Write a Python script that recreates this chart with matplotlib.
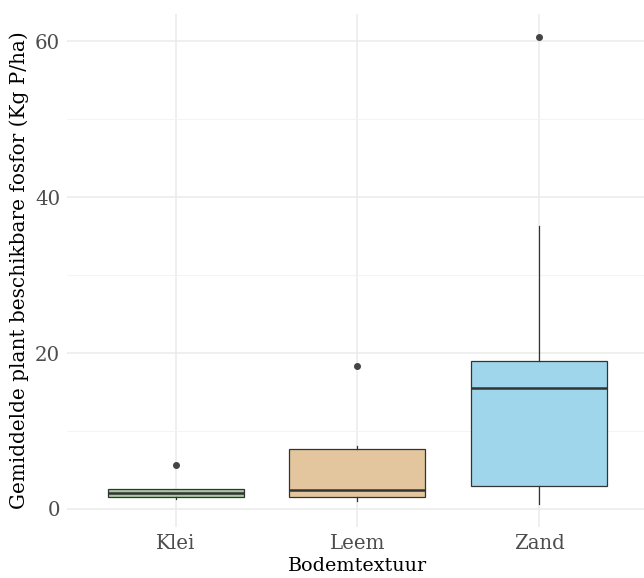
import matplotlib
matplotlib.use("Agg")
import matplotlib.pyplot as plt

# waarden
categories = ["Klei", "Leem", "Zand"]
q1 = [1.5, 1.5, 3.0]
median = [2.0, 2.4, 15.5]
q3 = [2.5, 7.65, 19.0]
whisker_low = [1.3, 1.05, 0.65]
whisker_high = [2.5, 8.05, 36.3]
outliers = [[5.6], [18.3], [60.5]]
colors = ["#a6cba1", "#e3c69e", "#a0d6ec"]

plt.rcParams["font.family"] = ["DejaVu Serif"]

fig, ax = plt.subplots(figsize=(6.44, 5.78), dpi=100)
fig.subplots_adjust(left=0.104, right=1.006, top=0.976, bottom=0.0877)

stats = []
for i, c in enumerate(categories):
    stats.append({"label": c, "q1": q1[i], "med": median[i], "q3": q3[i],
                  "whislo": whisker_low[i], "whishi": whisker_high[i],
                  "fliers": outliers[i]})

bp = ax.bxp(stats, positions=[1, 2, 3], widths=0.75, patch_artist=True,
            showcaps=False,
            boxprops=dict(edgecolor="#333333", linewidth=0.9),
            whiskerprops=dict(color="#333333", linewidth=0.9),
            medianprops=dict(color="#333333", linewidth=1.8),
            flierprops=dict(marker="o", markersize=4, markerfacecolor="#444444",
                            markeredgecolor="#444444"))
for patch, col in zip(bp["boxes"], colors):
    patch.set_facecolor(col)
for k in ["boxes", "whiskers", "medians", "fliers"]:
    for a in bp[k]:
        a.set_zorder(3)

ax.set_xlim(0.4, 3.6)
ax.set_ylim(-2.35, 63.5)
ax.set_yticks([0, 20, 40, 60])
ax.set_yticks([10, 30, 50], minor=True)
ax.set_xticks([1, 2, 3])
ax.set_xticklabels(categories)

ax.grid(which="major", color="#ebebeb", linewidth=1.1, zorder=0)
ax.grid(which="minor", axis="y", color="#f2f2f2", linewidth=0.6, zorder=0)
ax.set_axisbelow(True)
for s in ax.spines.values():
    s.set_visible(False)
ax.tick_params(which="both", length=0, labelsize=14.2, labelcolor="#4d4d4d", pad=5)

ax.set_xlabel("Bodemtextuur", fontsize=13.8, labelpad=3)
ax.set_ylabel("Gemiddelde plant beschikbare fosfor (Kg P/ha)", fontsize=14.4, labelpad=4)

fig.savefig("out.png", dpi=100)
